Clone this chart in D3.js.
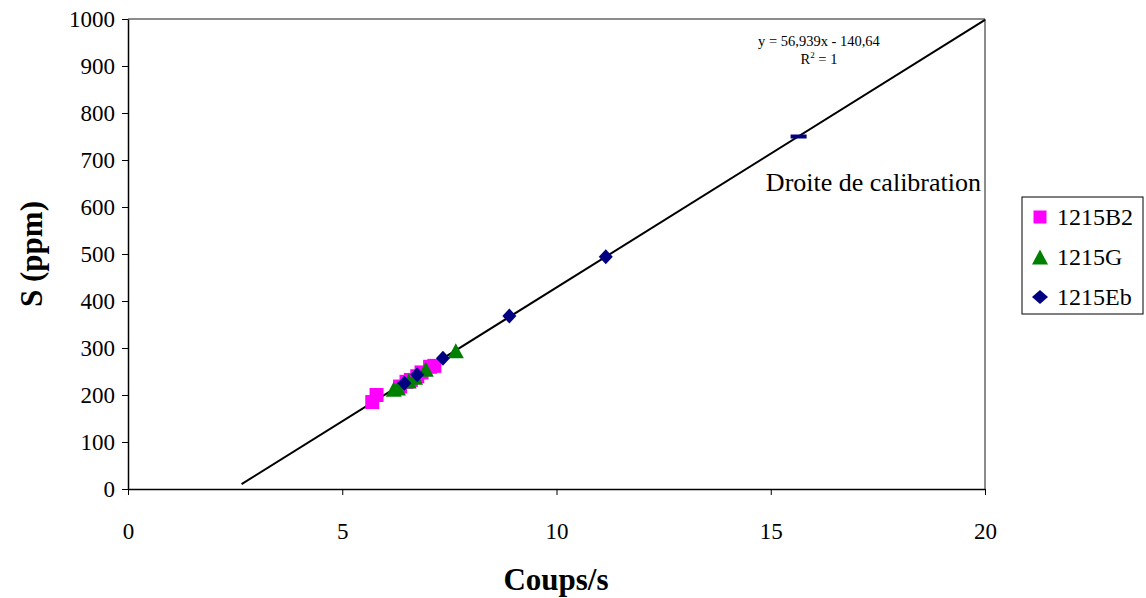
<!DOCTYPE html>
<html><head><meta charset="utf-8">
<script src="https://cdn.jsdelivr.net/npm/d3@7"></script>
<style>body{margin:0;background:#fff}svg{display:block}</style>
</head><body><svg id="c" width="1146" height="598" font-family="Liberation Serif"></svg>
<script>
const xTicks=[0,5,10,15,20];
const yTicks=[0,100,200,300,400,500,600,700,800,900,1000];
const seriesNames=["1215B2","1215G","1215Eb"];
const b2X=[5.7,5.8,6.35,6.5,6.6,6.75,6.85,7.05,7.15];
const b2Y=[185,200,218,228,232,240,248,260,262];
const gX=[6.2,6.3,6.55,6.7,6.95,7.65];
const gY=[212,215,230,238,255,294];
const ebX=[6.45,6.75,7.35,8.9,11.15,15.65];
const ebY=[225,243,278,368,494,750];
const trendX=[2.65,20];
const trendY=[10.2,998.2];
const eqText="y = 56,939x - 140,64";
const FF="Liberation Serif";

const svg=d3.select("#c");
const L=128,R=985,T=19,B=489;
const x=d3.scaleLinear().domain([0,20]).range([L,R]);
const y=d3.scaleLinear().domain([0,1000]).range([B,T]);

svg.append("line").attr("x1",L).attr("x2",R).attr("y1",T).attr("y2",T).attr("stroke","#8c8c8c").attr("stroke-width",2);
svg.append("line").attr("x1",R).attr("x2",R).attr("y1",T).attr("y2",B).attr("stroke","#8c8c8c").attr("stroke-width",2);

const xa=svg.append("g").attr("transform",`translate(0,${B})`).call(d3.axisBottom(x).tickValues(xTicks).tickFormat(d3.format("d")).tickSize(6).tickSizeOuter(0).tickPadding(28));
const ya=svg.append("g").attr("transform",`translate(${L},0)`).call(d3.axisLeft(y).tickValues(yTicks).tickFormat(d3.format("d")).tickSize(6).tickSizeOuter(0).tickPadding(7));
[xa,ya].forEach(a=>{a.attr("font-family",FF).attr("font-size",23);a.select(".domain").attr("stroke","#000").attr("stroke-width",1.5);a.selectAll(".tick line").attr("stroke","#000");a.selectAll("text").attr("font-family",FF).attr("font-size",23).attr("fill","#000");});

svg.append("line").attr("x1",x(trendX[0])).attr("y1",y(trendY[0])).attr("x2",x(trendX[1])).attr("y2",y(trendY[1])).attr("stroke","#000").attr("stroke-width",2);

const sqP=s=>`M${-s/2},${-s/2}h${s}v${s}h${-s}Z`;
const rectP=(w,h)=>`M${-w/2},${-h/2}h${w}v${h}h${-w}Z`;
const triP=(w,h)=>`M0,${-h/2}L${w/2},${h/2}L${-w/2},${h/2}Z`;
const diaP=(w,h)=>`M0,${-h/2}L${w/2},0L0,${h/2}L${-w/2},0Z`;
const b2=b2X.map((v,i)=>[v,b2Y[i]]), g=gX.map((v,i)=>[v,gY[i]]), eb=ebX.map((v,i)=>[v,ebY[i]]);
svg.append("g").selectAll("path").data(b2).join("path").attr("d",sqP(14)).attr("fill","#ff00ff").attr("transform",d=>`translate(${x(d[0])},${y(d[1])})`);
svg.append("g").selectAll("path").data(g).join("path").attr("d",triP(16,15)).attr("fill","#008000").attr("transform",d=>`translate(${x(d[0])},${y(d[1])})`);
svg.append("g").selectAll("path").data(eb).join("path").attr("d",(d,i)=>i===5?rectP(16,4):diaP(14,15)).attr("fill","#000080")
  .attr("transform",d=>`translate(${x(d[0])},${y(d[1])})`);

svg.append("text").attr("x",819).attr("y",46).attr("text-anchor","middle").attr("font-size",14.5).attr("font-family",FF).text(eqText);
const r2=svg.append("text").attr("x",819).attr("y",64).attr("text-anchor","middle").attr("font-size",14.5).attr("font-family",FF);
r2.append("tspan").text("R");r2.append("tspan").attr("font-size",9).attr("dy",-6).text("2");r2.append("tspan").attr("dy",6).text(" = 1");
svg.append("text").attr("x",981).attr("y",191).attr("text-anchor","end").attr("font-size",26).attr("font-family",FF).text("Droite de calibration");

svg.append("text").attr("x",556).attr("y",590).attr("text-anchor","middle").attr("font-size",31).attr("font-weight","bold").attr("font-family",FF).text("Coups/s");
svg.append("text").attr("transform","translate(42,254) rotate(-90)").attr("text-anchor","middle").attr("font-size",31).attr("font-weight","bold").attr("font-family",FF).text("S (ppm)");

const lg=svg.append("g");
lg.append("rect").attr("x",1022).attr("y",197).attr("width",121).attr("height",117).attr("fill","#fff").attr("stroke","#000").attr("stroke-width",1);
const shapes=[sqP(13),triP(16,15),diaP(16,14)],cols=["#ff00ff","#008000","#000080"];
seriesNames.forEach((n,i)=>{
  const cy=217+i*40;
  lg.append("path").attr("d",shapes[i]).attr("fill",cols[i]).attr("transform",`translate(1040,${cy})`);
  lg.append("text").attr("x",1057).attr("y",cy+8).attr("font-size",24).attr("font-family",FF).text(n);
});
</script></body></html>
